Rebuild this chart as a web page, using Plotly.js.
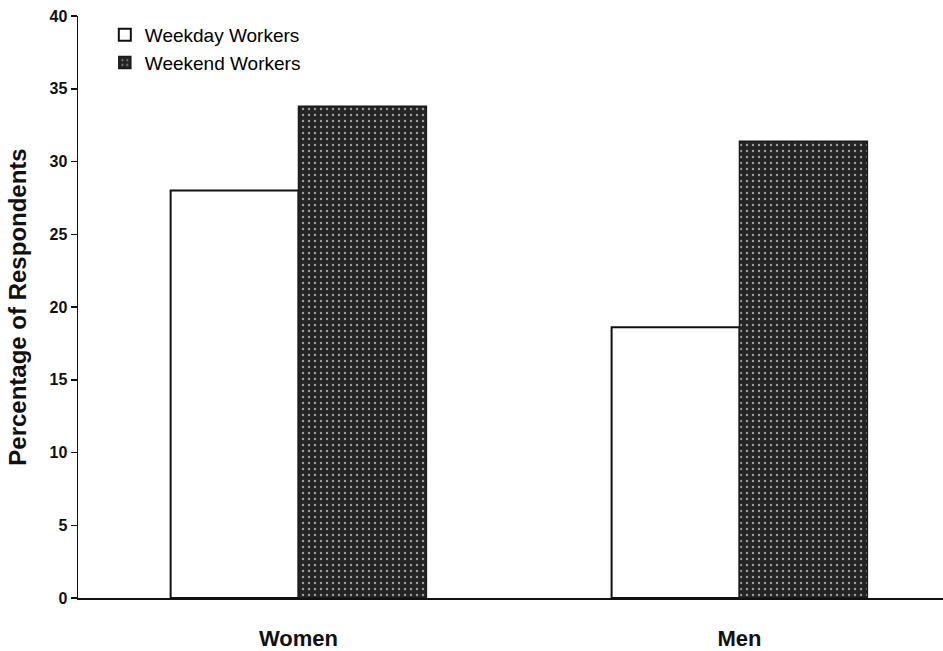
<!DOCTYPE html>
<html>
<head>
<meta charset="utf-8">
<script src="https://cdn.plot.ly/plotly-3.0.1.min.js"></script>
<style>
  html, body { margin: 0; padding: 0; background: #ffffff; }
  #chart { width: 943px; height: 651px; }
</style>
</head>
<body>
<div id="chart"></div>
<script>
// Data
const categories = ["Women", "Men"];
const weekdayWorkers = [28.0, 18.6];
const weekendWorkers = [33.8, 31.4];
const seriesNames = ["Weekday Workers", "Weekend Workers"];
const yTickValues = [0, 5, 10, 15, 20, 25, 30, 35, 40];

const FONT = "'Liberation Sans', Arial, Helvetica, sans-serif";

const traces = [
  {
    type: "bar",
    name: seriesNames[0],
    x: categories,
    y: weekdayWorkers,
    legendgroup: "a",
    marker: { color: "#ffffff", line: { color: "#111111", width: 2 } },
    hoverinfo: "skip"
  },
  {
    type: "bar",
    name: seriesNames[1],
    x: categories,
    y: weekendWorkers,
    legendgroup: "b",
    marker: {
      color: "#262626",
      line: { color: "#1a1a1a", width: 1.5 },
      pattern: { shape: ".", fgcolor: "#a0a0a0", bgcolor: "#242424", size: 6, solidity: 0.12, fillmode: "replace" }
    },
    hoverinfo: "skip"
  }
];

const layout = {
  width: 943,
  height: 651,
  margin: { l: 78, r: 0, t: 16, b: 53, pad: 0 },
  paper_bgcolor: "#ffffff",
  plot_bgcolor: "#ffffff",
  font: { family: FONT, color: "#111111" },
  barmode: "group",
  bargap: 0.42,
  bargroupgap: 0,
  showlegend: true,
  legend: {
    x: 0.031, y: 1.0, xanchor: "left", yanchor: "top",
    font: { family: FONT, size: 19, color: "#000000" },
    bgcolor: "rgba(0,0,0,0)",
    traceorder: "grouped",
    tracegroupgap: 0,
    itemclick: false
  },
  xaxis: {
    type: "category",
    range: [-0.5, 1.4615],
    showline: true, linecolor: "#111111", linewidth: 2,
    showgrid: false, zeroline: false,
    ticks: "", ticklabelstandoff: 20,
    tickfont: { family: FONT, size: 22, color: "#111111", weight: "bold" },
    fixedrange: true
  },
  yaxis: {
    range: [0, 40],
    tickvals: yTickValues,
    ticktext: yTickValues.map(String),
    showline: true, linecolor: "#111111", linewidth: 1.5,
    showgrid: false, zeroline: false,
    ticks: "outside", ticklen: 6, tickwidth: 1.5, tickcolor: "#111111",
    tickfont: { family: FONT, size: 16, color: "#111111", weight: "bold" },
    title: { text: "Percentage of Respondents", font: { family: FONT, size: 24, color: "#111111", weight: "bold" }, standoff: 16 },
    fixedrange: true
  }
};

Plotly.newPlot("chart", traces, layout, { displayModeBar: false, staticPlot: true });
</script>
</body>
</html>
